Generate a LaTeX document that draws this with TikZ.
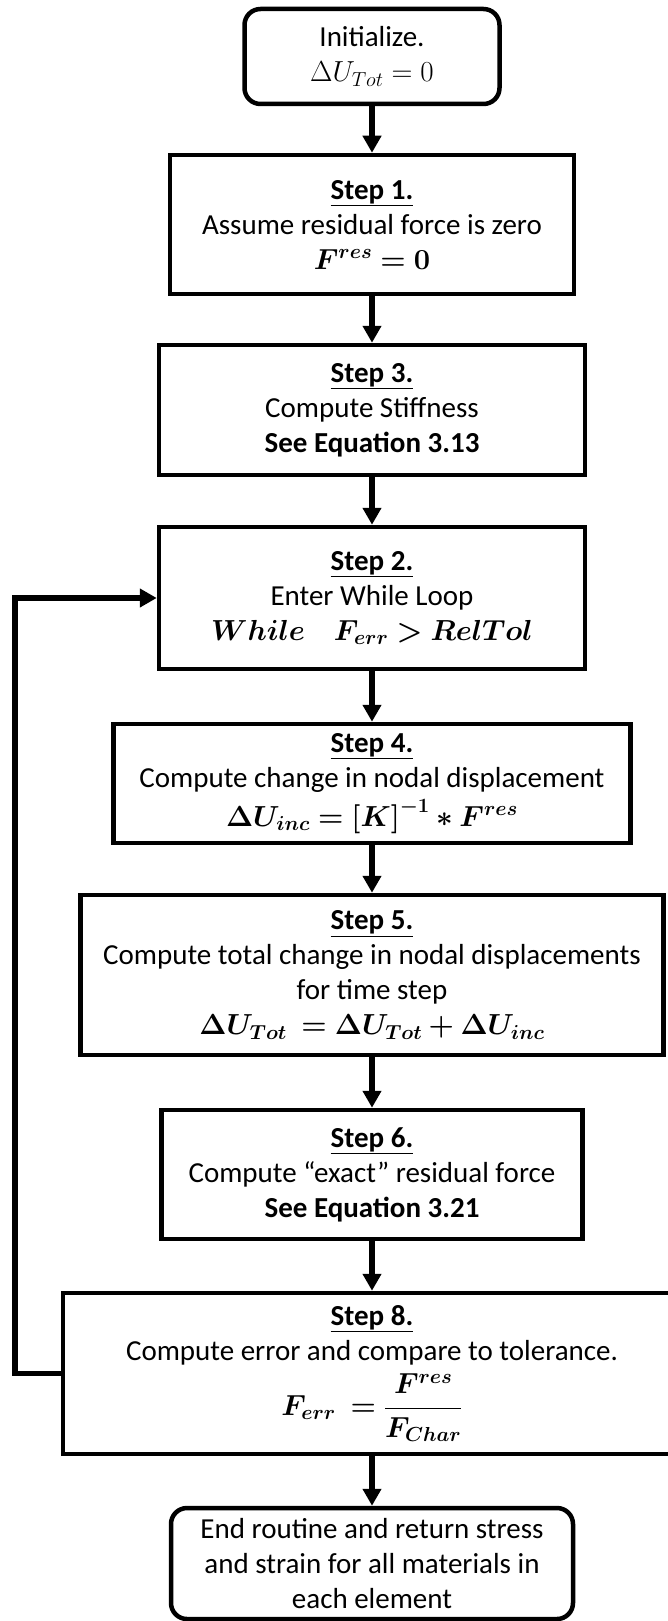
\RequirePackage{fix-cm}
\documentclass[tikz,border=0pt]{standalone}
\usepackage{amsmath,bm}
\usepackage{fontspec}
\setmainfont{Carlito}
\usetikzlibrary{arrows.meta, positioning}
\newcommand{\steptitle}[1]{\underline{\raisebox{0pt}[\height][3pt]{\textbf{#1}}}}

\begin{document}
\begin{tikzpicture}[x=1pt, y=1pt,
    every node/.style={font=\fontsize{29}{35}\selectfont, align=center},
    stepbox/.style={draw, line width=4.5pt, inner sep=2pt},
    roundbox/.style={draw, line width=4.5pt, rounded corners=16pt, inner sep=2pt},
    flowarrow/.style={line width=5.5pt, -{Triangle[length=17pt, width=18pt]}}]
    \useasboundingbox (0,0) rectangle (668,-1621);
    \clip (0,0) rectangle (668,-1621);

    % Start
    \node[roundbox, minimum width=255pt, minimum height=95pt] (init) at (372,-56.5)
        {Initialize.\\ $\Delta U_{Tot} = 0$};

    % Steps before the loop
    \node[stepbox, minimum width=404pt, minimum height=139pt] (s1) at (372,-224.5)
        {\steptitle{Step 1.}\\ Assume residual force is zero\\ $\bm{F^{res} = 0}$};
    \node[stepbox, minimum width=426pt, minimum height=130pt] (s3) at (372,-410)
        {\steptitle{Step 3.}\\ Compute Stiffness\\ \textbf{See Equation 3.13}};

    % While loop
    \node[stepbox, minimum width=426pt, minimum height=142pt] (s2) at (372,-598)
        {\steptitle{Step 2.}\\ Enter While Loop\\ $\bm{While\quad F_{err} > RelTol}$};
    \node[stepbox, minimum width=517pt, minimum height=119pt] (s4) at (372,-783.5)
        {\steptitle{Step 4.}\\ Compute change in nodal displacement\\[4pt] $\bm{\Delta U_{inc} = [K]^{-1} * F^{res}}$};
    \node[stepbox, minimum width=583pt, minimum height=160pt] (s5) at (372,-975)
        {\steptitle{Step 5.}\\ Compute total change in nodal displacements\\ for time step\\ $\bm{\Delta U_{Tot}\ = \Delta U_{Tot} + \Delta U_{inc}}$};
    \node[stepbox, minimum width=421pt, minimum height=129pt] (s6) at (372,-1174.5)
        {\steptitle{Step 6.}\\ Compute “exact” residual force\\ \textbf{See Equation 3.21}};
    \node[stepbox, minimum width=618pt, minimum height=161pt] (s8) at (372,-1373.5)
        {\steptitle{Step 8.}\\ Compute error and compare to tolerance.\\[8pt] $\bm{F_{err}\ = \dfrac{F^{res}}{F_{Char}}}$};

    % End
    \node[roundbox, minimum width=402pt, minimum height=111pt] (end) at (372,-1563.5)
        {End routine and return stress\\ and strain for all materials in\\ each element};

    % Arrows
    \draw[flowarrow] (init) -- (s1);
    \draw[flowarrow] (s1) -- (s3);
    \draw[flowarrow] (s3) -- (s2);
    \draw[flowarrow] (s2) -- (s4);
    \draw[flowarrow] (s4) -- (s5);
    \draw[flowarrow] (s5) -- (s6);
    \draw[flowarrow] (s6) -- (s8);
    \draw[flowarrow] (s8) -- (end);
    \draw[flowarrow] (s8.west) -- ++(-46,0) |- (s2.west);
\end{tikzpicture}
\end{document}
